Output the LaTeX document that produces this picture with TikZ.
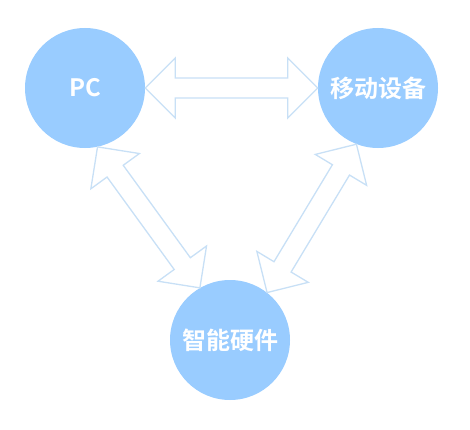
\documentclass[tikz,border=0pt]{standalone}
\usepackage{fontspec}
\newfontfamily\cjkbold{Noto Sans CJK SC Bold}
\usetikzlibrary{calc}
\definecolor{circfill}{RGB}{153,204,255}
\definecolor{arrline}{RGB}{200,224,246}
\tikzset{
  hub/.style={circle, fill=circfill, minimum size=120pt, inner sep=0pt,
    text=white, font=\cjkbold\fontsize{24}{24}\selectfont},
  hollowarrow/.style={draw=arrline, fill=white, line width=1.3pt, line join=miter},
}
% double hollow arrow from #1 to #2
\newcommand{\twowayarrow}[2]{%
  \draw[hollowarrow]
    (#1)
    -- ($(#1)!30pt!(#2)!30pt!90:(#2)$)
    -- ($(#1)!30pt!(#2)!10pt!90:(#2)$)
    -- ($(#2)!30pt!(#1)!10pt!-90:(#1)$)
    -- ($(#2)!30pt!(#1)!30pt!-90:(#1)$)
    -- (#2)
    -- ($(#2)!30pt!(#1)!30pt!90:(#1)$)
    -- ($(#2)!30pt!(#1)!10pt!90:(#1)$)
    -- ($(#1)!30pt!(#2)!10pt!-90:(#2)$)
    -- ($(#1)!30pt!(#2)!30pt!-90:(#2)$)
    -- cycle;}
\begin{document}
\begin{tikzpicture}[x=1pt,y=1pt]
\useasboundingbox (0,0) rectangle (470,429);
\node[hub] (pc) at (85,341) {PC};
\node[hub] (mob) at (378,341) {移动设备};
\node[hub] (hw) at (230,89) {智能硬件};
\coordinate (a1) at (pc.0);
\coordinate (a2) at (mob.180);
\coordinate (b1) at (pc.-78);
\coordinate (b2) at (hw.120);
\coordinate (c1) at (mob.249);
\coordinate (c2) at (hw.52);
\twowayarrow{a1}{a2}
\twowayarrow{b1}{b2}
\twowayarrow{c1}{c2}
\end{tikzpicture}
\end{document}
